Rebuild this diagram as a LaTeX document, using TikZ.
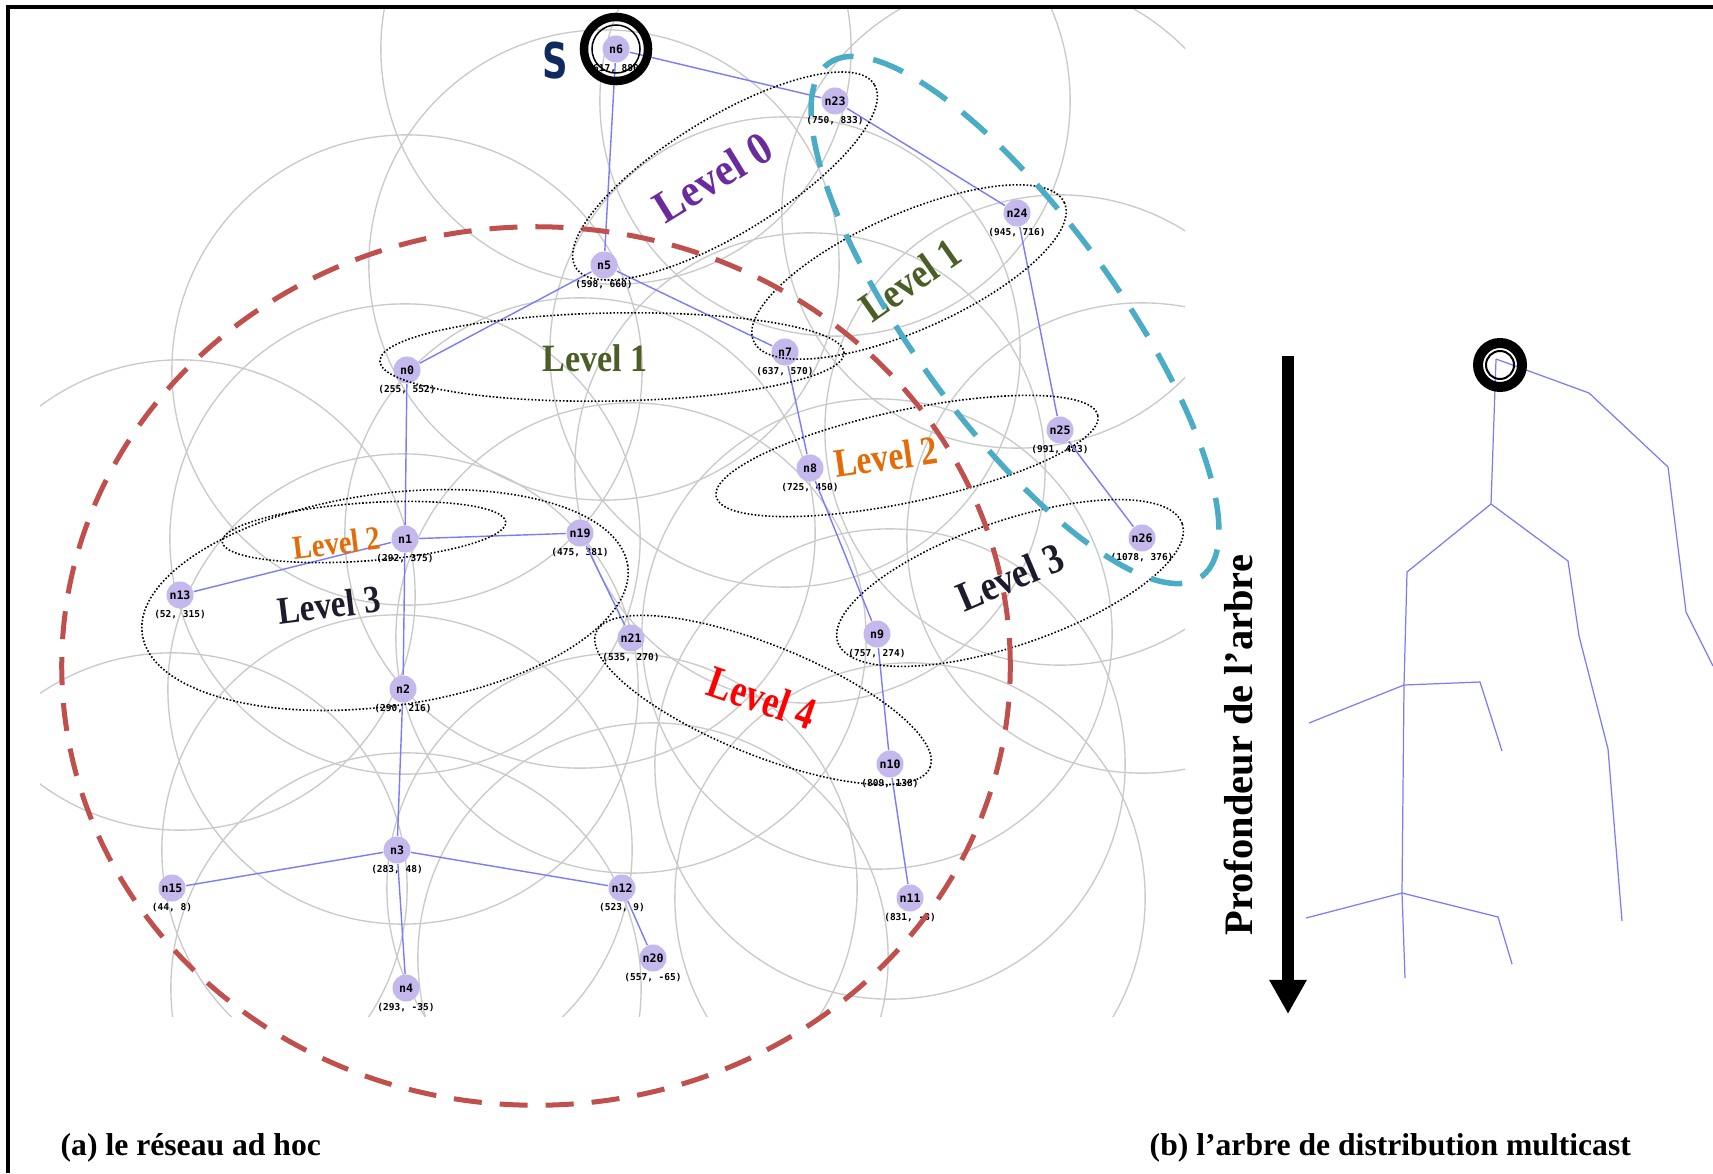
\documentclass[tikz,border=0pt]{standalone}
\usepackage{fontspec}
\setmainfont{Liberation Serif}
\newfontfamily\monofont{DejaVu Sans Mono}
\newfontfamily\heavysans{DejaVu Sans}
\usetikzlibrary{arrows.meta}
\definecolor{nodefill}{HTML}{C4B8EC}
\definecolor{linkblue}{HTML}{7B7BFF}
\definecolor{rangegray}{HTML}{CACACA}
\definecolor{zonered}{HTML}{C0504D}
\definecolor{zoneblue}{HTML}{4BACC6}
\definecolor{lvzero}{HTML}{6A2C9C}
\definecolor{lvone}{HTML}{4A5E26}
\definecolor{lvtwo}{HTML}{E36C09}
\definecolor{lvthree}{HTML}{1C1C2C}
\definecolor{lvfour}{HTML}{FF0000}
\definecolor{sourcenavy}{HTML}{0F2A5E}
% a network node with its coordinate label underneath
\newcommand\netnd[4]{%
  \node[netnode] (#1) at (#2) {#3};
  \node[coordlab] (#1-xy) at ([yshift=-0.2cm]#1.center) {#4};}
\begin{document}
\begin{tikzpicture}[x=0.01cm,y=-0.01cm,
  link/.style={draw=linkblue, line width=0.4pt},
  netnode/.style={circle, fill=nodefill, minimum size=0.27cm, inner sep=0pt,
    font=\monofont\bfseries\fontsize{3.3}{3.3}\selectfont},
  coordlab/.style={inner sep=0pt, font=\monofont\bfseries\fontsize{2.7}{2.7}\selectfont},
  radiorange/.style={draw=rangegray, line width=0.38pt},
  levelzone/.style={draw=black, line width=0.45pt, dash pattern=on 0.45pt off 0.55pt},
  levtext/.style={inner sep=0pt},
  treeline/.style={draw=linkblue, line width=0.35pt},
  redzone/.style={draw=zonered, line width=0.05cm, dash pattern=on 0.28cm off 0.18cm},
  bluezone/.style={draw=zoneblue, line width=0.055cm, dash pattern=on 0.32cm off 0.2cm},
]
\fill[white] (0,0) rectangle (1713,1173);
\useasboundingbox (0,0) rectangle (1713,1173);

% node positions
\foreach \nm/\px/\py in {n6/616/49, n23/835/101, n5/604/265, n0/407/370, n7/785/352,
  n1/405/539, n13/180/595, n19/580/533, n2/403/689, n21/631/638, n8/810/468,
  n25/1060/430, n24/1017/213, n26/1142/538, n9/877/634, n10/890/764, n11/910/898,
  n3/397/850, n15/172/888, n12/622/888, n20/653/958, n4/406/988}
  \coordinate (p-\nm) at (\px,\py);

% radio ranges
\begin{scope}
  \clip (40,9) rectangle (1185,1016);
  \foreach \nm in {n6,n23,n5,n0,n7,n1,n13,n19,n2,n21,n8,n25,n24,n26,n9,n10,n11,n3,n15,n12,n20,n4}
    \draw[radiorange] (p-\nm) circle [radius=2.35cm];
\end{scope}

% nodes
\netnd{n6}{p-n6}{n6}{(617, 880)}
\netnd{n23}{p-n23}{n23}{(750, 833)}
\netnd{n5}{p-n5}{n5}{(598, 660)}
\netnd{n0}{p-n0}{n0}{(255, 552)}
\netnd{n7}{p-n7}{n7}{(637, 570)}
\netnd{n1}{p-n1}{n1}{(292, 375)}
\netnd{n13}{p-n13}{n13}{(52, 315)}
\netnd{n19}{p-n19}{n19}{(475, 381)}
\netnd{n2}{p-n2}{n2}{(290, 216)}
\netnd{n21}{p-n21}{n21}{(535, 270)}
\netnd{n8}{p-n8}{n8}{(725, 450)}
\netnd{n25}{p-n25}{n25}{(991, 483)}
\netnd{n24}{p-n24}{n24}{(945, 716)}
\netnd{n26}{p-n26}{n26}{(1078, 376)}
\netnd{n9}{p-n9}{n9}{(757, 274)}
\netnd{n10}{p-n10}{n10}{(809, 138)}
\netnd{n11}{p-n11}{n11}{(831, -3)}
\netnd{n3}{p-n3}{n3}{(283, 48)}
\netnd{n15}{p-n15}{n15}{(44, 8)}
\netnd{n12}{p-n12}{n12}{(523, 9)}
\netnd{n20}{p-n20}{n20}{(557, -65)}
\netnd{n4}{p-n4}{n4}{(293, -35)}

% multicast links
\foreach \a/\b in {n6/n23, n6/n5, n23/n24, n24/n25, n25/n26, n5/n0, n5/n7, n0/n1,
  n7/n8, n8/n9, n9/n10, n10/n11, n1/n13, n1/n19, n1/n2, n19/n21, n2/n3, n3/n15,
  n3/n12, n3/n4, n12/n20}
  \draw[link] (\a) -- (\b);

% level zones
\draw[levelzone, rotate around={31.5:(725,176)}] (725,176) ellipse [x radius=1.75cm, y radius=0.58cm];
\draw[levelzone, rotate around={1:(612,357)}] (612,357) ellipse [x radius=2.32cm, y radius=0.44cm];
\draw[levelzone, rotate around={24:(909,272)}] (909,272) ellipse [x radius=1.7cm, y radius=0.58cm];
\draw[levelzone, rotate around={12:(907,456)}] (907,456) ellipse [x radius=1.95cm, y radius=0.46cm];
\draw[levelzone, rotate around={4:(364,532)}] (364,532) ellipse [x radius=1.42cm, y radius=0.29cm];
\draw[levelzone, rotate around={8:(385,600)}] (385,600) ellipse [x radius=2.45cm, y radius=1.06cm];
\draw[levelzone, rotate around={19:(1010,583)}] (1010,583) ellipse [x radius=1.82cm, y radius=0.62cm];
\draw[levelzone, rotate around={-22:(763,700)}] (763,700) ellipse [x radius=1.8cm, y radius=0.55cm];

% level labels
\node[levtext, rotate=31.5, xscale=0.92, text=lvzero, font=\bfseries\fontsize{13}{13}\selectfont] (lab0) at (713,177) {Level 0};
\node[levtext, xscale=0.88, text=lvone, font=\bfseries\fontsize{11}{11}\selectfont] (lab1a) at (595,358) {Level 1};
\node[levtext, rotate=35, xscale=0.86, text=lvone, font=\bfseries\fontsize{12}{12}\selectfont] (lab1b) at (910,280) {Level 1};
\node[levtext, rotate=8, xscale=0.83, text=lvtwo, font=\bfseries\fontsize{11.5}{11.5}\selectfont] (lab2a) at (886,457) {Level 2};
\node[levtext, rotate=7, xscale=0.85, text=lvtwo, font=\bfseries\fontsize{9.5}{9.5}\selectfont] (lab2b) at (337,543) {Level 2};
\node[levtext, rotate=7, xscale=0.86, text=lvthree, font=\bfseries\fontsize{11}{11}\selectfont] (lab3a) at (329,605) {Level 3};
\node[levtext, rotate=23, xscale=0.86, text=lvthree, font=\bfseries\fontsize{12}{12}\selectfont] (lab3b) at (1010,577) {Level 3};
\node[levtext, rotate=-19, xscale=0.78, text=lvfour, font=\bfseries\fontsize{13}{13}\selectfont] (lab4) at (762,698) {Level 4};

% highlighted regions
\draw[redzone] (536,666) ellipse [x radius=4.74cm, y radius=4.39cm];
\draw[bluezone, rotate around={-54:(1015,320)}] (1015,320) ellipse [x radius=3.17cm, y radius=1.02cm];

% source marker
\draw[line width=0.085cm] (n6.center) circle [radius=0.32cm];
\draw[line width=0.015cm] (n6.center) circle [radius=0.24cm];
\node[font=\heavysans\bfseries\fontsize{14}{14}\selectfont, text=sourcenavy, xscale=0.72, inner sep=0pt] (srcS) at (555,61) {S};

% depth arrow
\coordinate (arrtop) at (1288,356);
\coordinate (arrtip) at (1288,1014);
\draw[line width=0.123cm, -{Triangle[width=0.35cm,length=0.34cm]}] (arrtop) -- (arrtip);
\node[rotate=90, inner sep=0pt, font=\bfseries\fontsize{11.5}{11.5}\selectfont] (depth) at (1238,745) {Profondeur de l’arbre};

% multicast distribution tree
\foreach \nm/\px/\py in {t0/1496/359, t23/1589/393, t24/1668/467, t25/1686/612, t26/1713/666,
  t5/1491/504, t0l/1407/572, t7/1568/561, t1/1404/685, t13/1309/723, t19/1480/682,
  t21/1502/751, t3/1402/893, t15/1306/918, t12/1498/917, t20/1512/964, t4/1405/978,
  t8/1579/636, t9/1608/749, t10/1622/921}
  \coordinate (\nm) at (\px,\py);
\draw[treeline] (t0) -- (t23) -- (t24) -- (t25) -- (t26);
\draw[treeline] (t0) -- (t5) -- (t0l) -- (t1) -- (t3) -- (t4);
\draw[treeline] (t5) -- (t7) -- (t8) -- (t9) -- (t10);
\draw[treeline] (t13) -- (t1) -- (t19) -- (t21);
\draw[treeline] (t15) -- (t3) -- (t12) -- (t20);
\coordinate (troot) at (1500,365);
\draw[line width=0.1cm] (troot) circle [radius=0.22cm];
\draw[line width=0.02cm] (troot) circle [radius=0.14cm];

% captions
\node[anchor=base west, inner sep=0pt, font=\bfseries\fontsize{9}{9}\selectfont] (capa) at (60,1155) {(a) le réseau ad hoc};
\node[anchor=base west, inner sep=0pt, font=\bfseries\fontsize{9}{9}\selectfont] (capb) at (1149,1155) {(b) l’arbre de distribution multicast};

% frame
\draw[line width=0.04cm] (8,1173) -- (8,7) -- (1713,7);
\end{tikzpicture}
\end{document}
